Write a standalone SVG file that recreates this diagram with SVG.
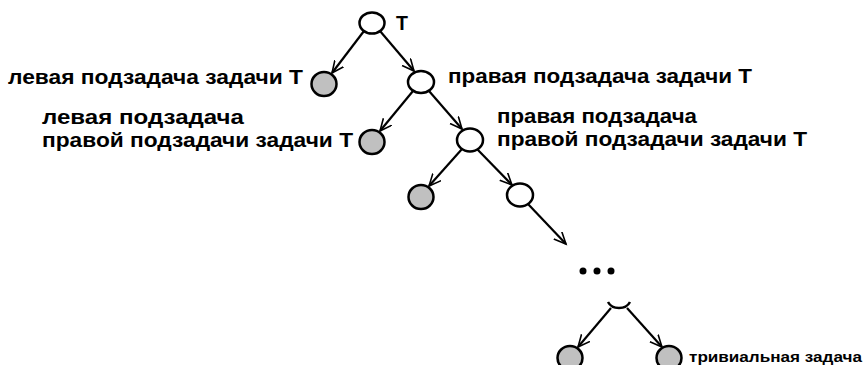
<svg xmlns="http://www.w3.org/2000/svg" width="865" height="365" viewBox="0 0 865 365">
<style>
.n{fill:#fff;stroke:#000;stroke-width:2.5}
.g{fill:#c0c0c0;stroke:#000;stroke-width:2.5}
.e{stroke:#000;stroke-width:2.2;fill:none;marker-end:url(#a)}
.t{font-family:"Liberation Sans",Arial,sans-serif;font-weight:bold;font-size:19.5px;fill:#000}
.s{font-size:15px}
</style>
<defs>
<marker id="a" markerUnits="userSpaceOnUse" markerWidth="16" markerHeight="16" refX="12" refY="6" orient="auto">
<path d="M0,0.5 L12,6 L0,11.5" fill="none" stroke="#000" stroke-width="1.6"/>
</marker>
</defs>
<rect width="865" height="365" fill="#fff"/>
<g id="edges">
<line class="e" x1="364" y1="31" x2="332" y2="73"/>
<line class="e" x1="380" y1="31" x2="414" y2="71"/>
<line class="e" x1="413" y1="91" x2="380" y2="131"/>
<line class="e" x1="429" y1="91" x2="462" y2="129"/>
<line class="e" x1="462" y1="149" x2="429" y2="186"/>
<line class="e" x1="477" y1="149" x2="512" y2="185"/>
<line class="e" x1="528" y1="204" x2="566" y2="244"/>
<line class="e" x1="611" y1="308" x2="578" y2="347"/>
<line class="e" x1="627" y1="308" x2="662" y2="347"/>
</g>
<g id="root"><ellipse class="n" cx="372" cy="23" rx="12.5" ry="10.5"/><text class="t" x="396" y="30">T</text></g>
<g id="left1"><ellipse class="g" cx="324" cy="84" rx="12.5" ry="12"/><text class="t" x="8" y="84" textLength="295" lengthAdjust="spacingAndGlyphs">левая подзадача задачи T</text></g>
<g id="right1"><ellipse class="n" cx="421" cy="82" rx="13" ry="11"/><text class="t" x="448" y="83" textLength="304" lengthAdjust="spacingAndGlyphs">правая подзадача задачи T</text></g>
<g id="left2"><ellipse class="g" cx="372" cy="142" rx="12.5" ry="12"/><text class="t"><tspan x="42" y="124" textLength="202" lengthAdjust="spacingAndGlyphs">левая подзадача</tspan><tspan x="42" y="147" textLength="311" lengthAdjust="spacingAndGlyphs">правой подзадачи задачи T</tspan></text></g>
<g id="right2"><ellipse class="n" cx="470" cy="140" rx="13" ry="11.5"/><text class="t"><tspan x="497" y="123" textLength="200" lengthAdjust="spacingAndGlyphs">правая подзадача</tspan><tspan x="497" y="146" textLength="310" lengthAdjust="spacingAndGlyphs">правой подзадачи задачи T</tspan></text></g>
<g id="left3"><ellipse class="g" cx="421" cy="197" rx="12.5" ry="12"/></g>
<g id="right3"><ellipse class="n" cx="520" cy="195" rx="13" ry="11.5"/></g>
<g id="dots"><circle cx="583" cy="271" r="3.5"/><circle cx="597" cy="271" r="3.5"/><circle cx="611" cy="271" r="3.5"/></g>
<g id="last"><path class="n" d="M608,302 A12,10 0 0 0 630,302"/></g>
<g id="leafL"><ellipse class="g" cx="570" cy="358" rx="12.5" ry="12"/></g>
<g id="leafR"><ellipse class="g" cx="669" cy="358" rx="12.5" ry="12"/><text class="t s" x="689" y="362" textLength="173" lengthAdjust="spacingAndGlyphs">тривиальная задача</text></g>
</svg>
